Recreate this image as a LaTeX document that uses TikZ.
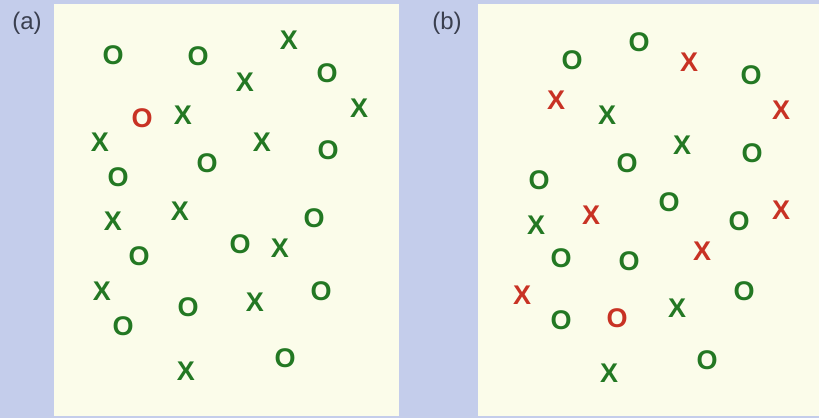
\documentclass[tikz,border=0pt]{standalone}
\usepackage{fontspec}
\setmainfont{Liberation Sans}
\definecolor{bgblue}{HTML}{C4CDEB}
\definecolor{cream}{HTML}{FBFCEA}
\definecolor{sgreen}{HTML}{237823}
\definecolor{sred}{HTML}{C83224}
\definecolor{labgray}{HTML}{3A3F4F}
\tikzset{
  sym/.style={font=\bfseries\fontsize{27}{27}\selectfont, inner sep=0pt, anchor=center},
  gsym/.style={sym, text=sgreen},
  rsym/.style={sym, text=sred},
  panel/.style={fill=cream, draw=none},
  plabel/.style={font=\fontsize{24}{24}\selectfont, text=labgray, inner sep=0pt}
}
\begin{document}
\begin{tikzpicture}[x=1pt,y=-1pt]
\fill[bgblue] (0,0) rectangle (819,418);
\useasboundingbox (0,0) rectangle (819,418);
\fill[panel] (54,4) rectangle (399,416);
\fill[panel] (478,4) rectangle (819,416);
\node[plabel] (la) at (27,23) {(a)};
\node[plabel] (lb) at (447,23) {(b)};
% panel (a)
\foreach \x/\y [count=\i] in {113/55,198/56,327/73,328/150,207/163,118/177,314/218,139/256,240/244,321/291,188/307,123/326,285/358}
  \node[gsym] (aO\i) at (\x,\y) {O};
\foreach \x/\y [count=\i] in {289/40,245/82,359/108,183/115,100/142,262/142,113/221,180/211,280/248,102/291,255/302,186/371}
  \node[gsym] (aX\i) at (\x,\y) {X};
\node[rsym] (aR1) at (142,118) {O};
% panel (b)
\foreach \x/\y [count=\i] in {572/60,639/42,751/75,752/153,627/163,539/180,669/202,739/221,561/258,629/261,744/291,561/320,707/360}
  \node[gsym] (bO\i) at (\x,\y) {O};
\foreach \x/\y [count=\i] in {607/115,682/145,536/225,677/308,609/373}
  \node[gsym] (bX\i) at (\x,\y) {X};
\foreach \x/\y [count=\i] in {689/62,556/100,781/110,591/215,781/210,702/251,522/295}
  \node[rsym] (bRX\i) at (\x,\y) {X};
\node[rsym] (bRO1) at (617,318) {O};
\end{tikzpicture}
\end{document}
